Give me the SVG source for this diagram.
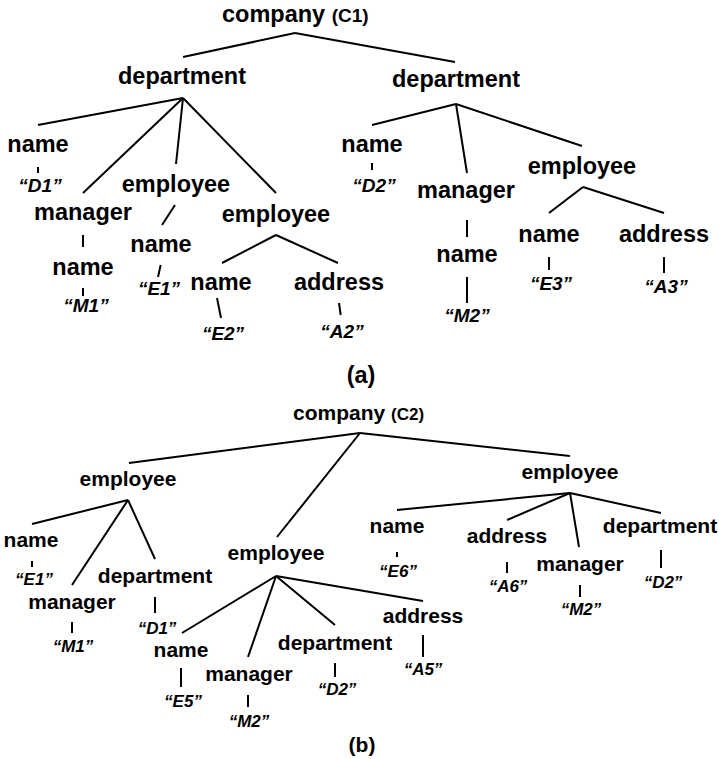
<svg xmlns="http://www.w3.org/2000/svg" width="719" height="759" viewBox="0 0 719 759">
  <style>
    text { font-family: "Liberation Sans", Arial, sans-serif; font-weight: bold; fill: #000; }
    .a { font-size: 23.5px; text-anchor: middle; }
    .b { font-size: 21px; text-anchor: middle; }
    .va { font-size: 19px; font-style: italic; text-anchor: middle; }
    .vb { font-size: 17px; font-style: italic; text-anchor: middle; }
    .edges line { stroke: #000; stroke-width: 2; stroke-linecap: butt; }
  </style>

  <rect width="719" height="759" fill="#fff"/>

  <!-- Tree (a): company C1 -->
  <g id="a-company"><text x="222" y="22" font-size="23.5px">company <tspan font-size="19px">(C1)</tspan></text></g>
  <g id="a-dept1"><text class="a" x="182" y="84">department</text></g>
  <g id="a-dept1-name"><text class="a" x="38" y="152">name</text></g>
  <g id="a-dept1-name-val"><text class="va" x="40" y="192">“D1”</text></g>
  <g id="a-dept1-manager"><text class="a" x="83" y="220">manager</text></g>
  <g id="a-dept1-manager-name"><text class="a" x="83" y="275">name</text></g>
  <g id="a-dept1-manager-val"><text class="va" x="86" y="312">“M1”</text></g>
  <g id="a-emp1"><text class="a" x="176" y="192">employee</text></g>
  <g id="a-emp1-name"><text class="a" x="161" y="252">name</text></g>
  <g id="a-emp1-val"><text class="va" x="159" y="295">“E1”</text></g>
  <g id="a-emp2"><text class="a" x="276" y="222">employee</text></g>
  <g id="a-emp2-name"><text class="a" x="221" y="290">name</text></g>
  <g id="a-emp2-name-val"><text class="va" x="223" y="340">“E2”</text></g>
  <g id="a-emp2-addr"><text class="a" x="339" y="290">address</text></g>
  <g id="a-emp2-addr-val"><text class="va" x="342" y="338">“A2”</text></g>
  <g id="a-dept2"><text class="a" x="456" y="87">department</text></g>
  <g id="a-dept2-name"><text class="a" x="372" y="152">name</text></g>
  <g id="a-dept2-name-val"><text class="va" x="374" y="192">“D2”</text></g>
  <g id="a-dept2-manager"><text class="a" x="466" y="198">manager</text></g>
  <g id="a-dept2-manager-name"><text class="a" x="467" y="262">name</text></g>
  <g id="a-dept2-manager-val"><text class="va" x="467" y="322">“M2”</text></g>
  <g id="a-emp3"><text class="a" x="582" y="174">employee</text></g>
  <g id="a-emp3-name"><text class="a" x="549" y="242">name</text></g>
  <g id="a-emp3-name-val"><text class="va" x="551" y="290">“E3”</text></g>
  <g id="a-emp3-addr"><text class="a" x="664" y="242">address</text></g>
  <g id="a-emp3-addr-val"><text class="va" x="666" y="293">“A3”</text></g>
  <g id="label-a"><text class="a" x="361" y="383">(a)</text></g>

  <!-- Tree (b): company C2 -->
  <g id="b-company"><text x="293" y="420" font-size="21px">company <tspan font-size="17px">(C2)</tspan></text></g>
  <g id="b-emp1"><text class="b" x="128" y="486">employee</text></g>
  <g id="b-emp1-name"><text class="b" x="31" y="547">name</text></g>
  <g id="b-emp1-name-val"><text class="vb" x="34" y="585">“E1”</text></g>
  <g id="b-emp1-manager"><text class="b" x="72" y="609">manager</text></g>
  <g id="b-emp1-manager-val"><text class="vb" x="73" y="652">“M1”</text></g>
  <g id="b-emp1-dept"><text class="b" x="155" y="583">department</text></g>
  <g id="b-emp1-dept-val"><text class="vb" x="157" y="634">“D1”</text></g>
  <g id="b-emp2"><text class="b" x="276" y="560">employee</text></g>
  <g id="b-emp2-name"><text class="b" x="181" y="657">name</text></g>
  <g id="b-emp2-name-val"><text class="vb" x="183" y="707">“E5”</text></g>
  <g id="b-emp2-manager"><text class="b" x="249" y="681">manager</text></g>
  <g id="b-emp2-manager-val"><text class="vb" x="249" y="727">“M2”</text></g>
  <g id="b-emp2-dept"><text class="b" x="335" y="650">department</text></g>
  <g id="b-emp2-dept-val"><text class="vb" x="337" y="695">“D2”</text></g>
  <g id="b-emp2-addr"><text class="b" x="423" y="623">address</text></g>
  <g id="b-emp2-addr-val"><text class="vb" x="423" y="675">“A5”</text></g>
  <g id="b-emp3"><text class="b" x="570" y="479">employee</text></g>
  <g id="b-emp3-name"><text class="b" x="397" y="533">name</text></g>
  <g id="b-emp3-name-val"><text class="vb" x="398" y="577">“E6”</text></g>
  <g id="b-emp3-addr"><text class="b" x="507" y="543">address</text></g>
  <g id="b-emp3-addr-val"><text class="vb" x="508" y="592">“A6”</text></g>
  <g id="b-emp3-manager"><text class="b" x="580" y="571">manager</text></g>
  <g id="b-emp3-manager-val"><text class="vb" x="581" y="615">“M2”</text></g>
  <g id="b-emp3-dept"><text class="b" x="660" y="533">department</text></g>
  <g id="b-emp3-dept-val"><text class="vb" x="663" y="588">“D2”</text></g>
  <g id="label-b"><text class="b" x="362" y="752">(b)</text></g>

  <!-- Connectors -->
  <g id="edges" class="edges">
    <!-- tree (a) -->
    <line x1="295" y1="33" x2="183" y2="57"/>
    <line x1="295" y1="33" x2="455" y2="62"/>
    <line x1="183" y1="98" x2="38" y2="125"/>
    <line x1="183" y1="98" x2="83" y2="193"/>
    <line x1="183" y1="98" x2="176" y2="164"/>
    <line x1="183" y1="98" x2="276" y2="193"/>
    <line x1="38" y1="167" x2="38" y2="173"/>
    <line x1="83" y1="235" x2="83" y2="247"/>
    <line x1="83" y1="288" x2="83" y2="296"/>
    <line x1="175" y1="205" x2="162" y2="225"/>
    <line x1="160.7" y1="265" x2="158" y2="277"/>
    <line x1="276" y1="235" x2="222" y2="263"/>
    <line x1="276" y1="235" x2="338" y2="263"/>
    <line x1="217" y1="298" x2="221" y2="318"/>
    <line x1="339" y1="303" x2="340.7" y2="315"/>
    <line x1="456" y1="104" x2="372" y2="125"/>
    <line x1="456" y1="104" x2="467" y2="173"/>
    <line x1="456" y1="104" x2="582" y2="146"/>
    <line x1="372" y1="163" x2="372" y2="170"/>
    <line x1="467" y1="220" x2="467" y2="237"/>
    <line x1="467" y1="277" x2="467" y2="303"/>
    <line x1="583" y1="187" x2="549" y2="213"/>
    <line x1="583" y1="187" x2="664" y2="213"/>
    <line x1="549" y1="257" x2="549" y2="270"/>
    <line x1="664" y1="257" x2="664" y2="273"/>
    <!-- tree (b) -->
    <line x1="360" y1="433" x2="129" y2="463"/>
    <line x1="360" y1="433" x2="277" y2="537"/>
    <line x1="360" y1="433" x2="570" y2="456"/>
    <line x1="128" y1="500" x2="32" y2="524"/>
    <line x1="128" y1="500" x2="72" y2="585"/>
    <line x1="128" y1="500" x2="155" y2="559"/>
    <line x1="32" y1="561" x2="32" y2="567"/>
    <line x1="72" y1="622" x2="72" y2="633"/>
    <line x1="155" y1="597" x2="155" y2="613"/>
    <line x1="276" y1="576" x2="182" y2="633"/>
    <line x1="276" y1="576" x2="248" y2="657"/>
    <line x1="276" y1="576" x2="335" y2="625"/>
    <line x1="276" y1="576" x2="423" y2="601"/>
    <line x1="181" y1="668" x2="181" y2="687"/>
    <line x1="248" y1="695" x2="248" y2="707"/>
    <line x1="335" y1="663" x2="335" y2="677"/>
    <line x1="423" y1="635" x2="423" y2="657"/>
    <line x1="570" y1="493" x2="397" y2="510"/>
    <line x1="570" y1="493" x2="507" y2="520"/>
    <line x1="570" y1="493" x2="579" y2="547"/>
    <line x1="570" y1="493" x2="661" y2="513"/>
    <line x1="397" y1="552" x2="397" y2="557"/>
    <line x1="507" y1="562" x2="507" y2="573"/>
    <line x1="580" y1="585" x2="580" y2="597"/>
    <line x1="661" y1="550" x2="661" y2="568"/>
  </g>
</svg>
